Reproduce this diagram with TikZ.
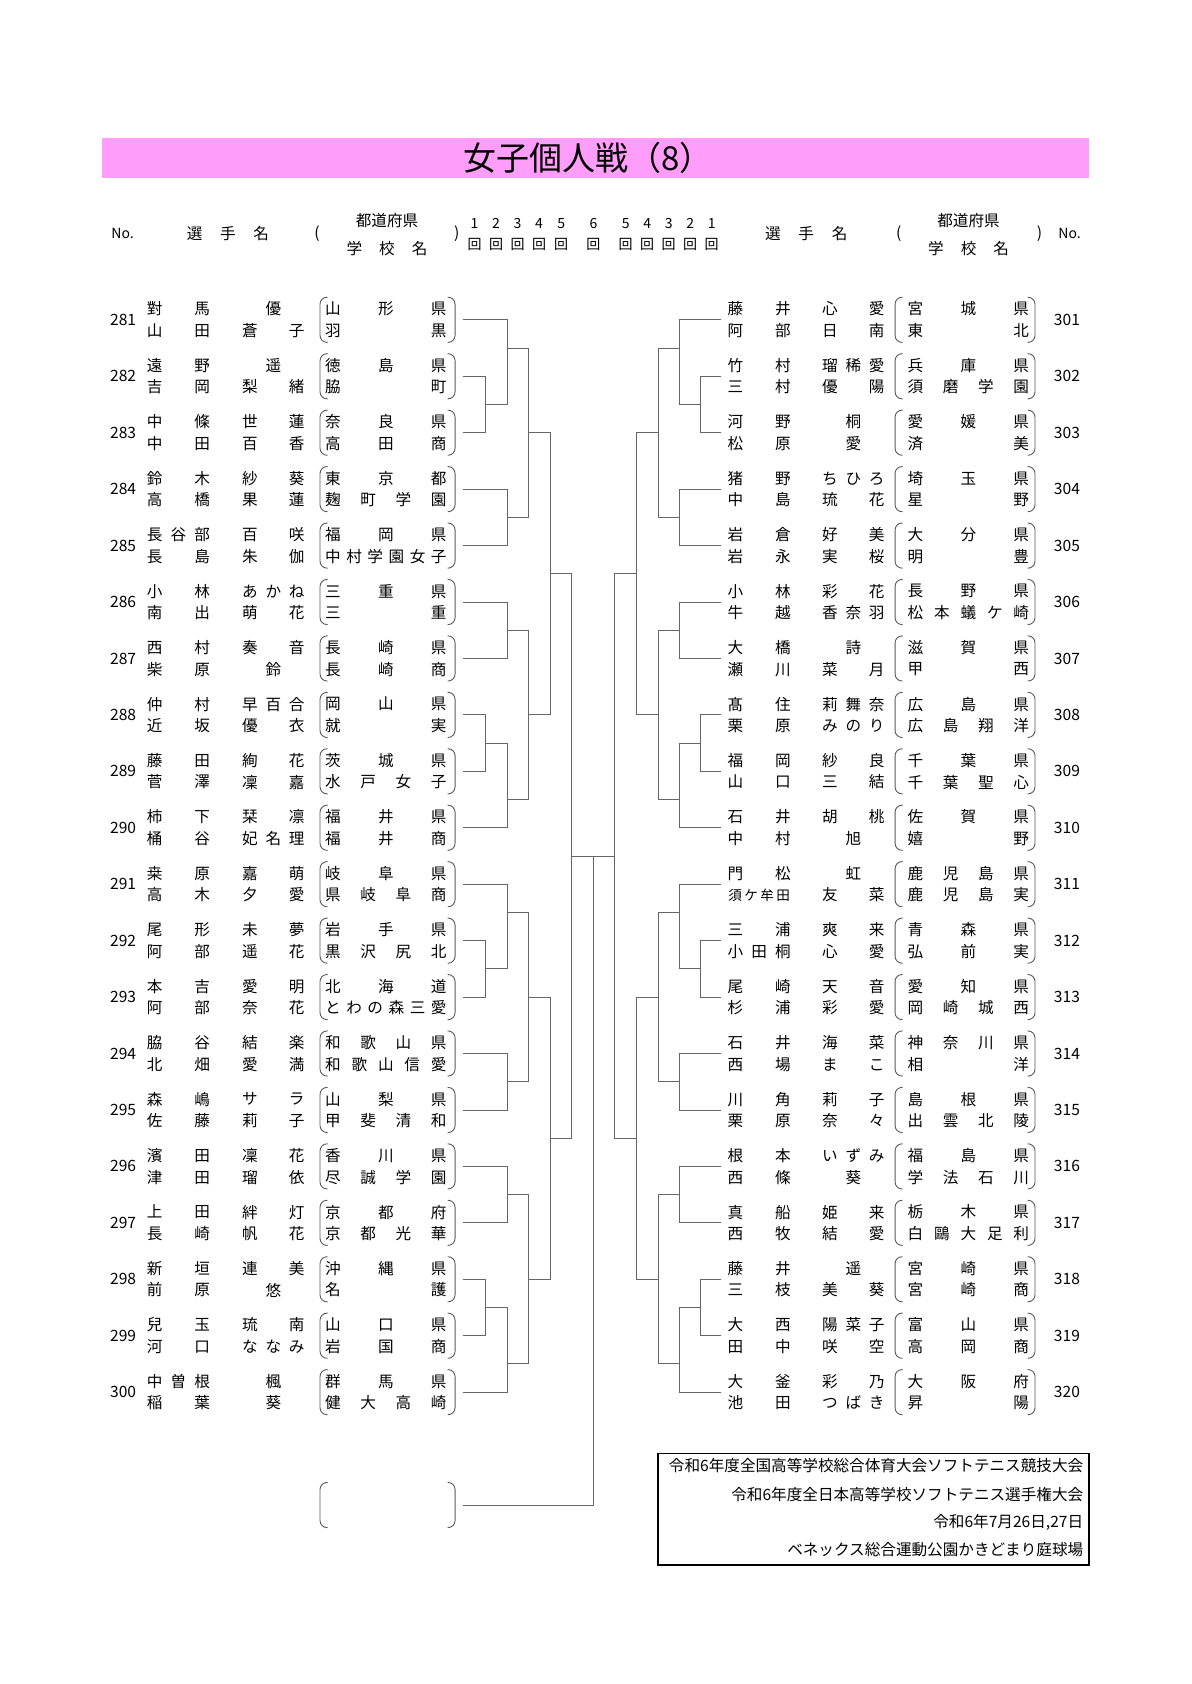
\documentclass[tikz,border=0pt]{standalone}
\usepackage{fontspec}
\setmainfont{Noto Sans CJK JP}
\usepackage{tikz}
\usetikzlibrary{
  	positioning,
  	calc
  }
\definecolor{titlepink}{RGB}{255,158,250}
\tikzstyle{bline}=[draw=black!60,line width=0.45pt]
\tikzstyle{paren}=[draw=black!65,line width=0.45pt,rounded corners=3.5pt]
\tikzstyle{txt}=[inner sep=0pt,font=\fontsize{7.8}{9}\selectfont]
\tikzstyle{rnd}=[inner sep=0pt,font=\fontsize{7}{8}\selectfont]
\makeatletter
\newcommand\jus[2]{\makebox[#1]{\expandafter\jus@a#2\relax}}
\def\jus@a#1{\ifx#1\relax\else#1\expandafter\jus@b\fi}
\def\jus@b#1{\ifx#1\relax\else\hfill#1\expandafter\jus@b\fi}
\makeatother

\begin{document}
\begin{tikzpicture}[x=0.5375pt,y=-0.5375pt]
	\fill[white] (0,0) rectangle (1108,1566.5);
	\useasboundingbox (0,0) rectangle (1108,1566.5);
%
	\fill[titlepink] (95,128) rectangle (1013,166);
	\node[inner sep=0pt,font=\fontsize{16.5}{19}\selectfont] (title) at (547,147) {女子個人戦（8）};
%
	\node[rnd] (noL) at (114,217) {No.};
	\node[txt] (senL) at (212,217) {\jus{41.1pt}{選手名}};
	\node[txt] (paL) at (295,217) {(};
	\node[txt] (prefL) at (360,205) {都道府県};
	\node[txt] (schL) at (360,231) {\jus{40.4pt}{学校名}};
	\node[txt] (pbL) at (425,217) {)};
	\node[txt] (senR) at (750,217) {\jus{41.1pt}{選手名}};
	\node[txt] (paR) at (836,217) {(};
	\node[txt] (prefR) at (901,205) {都道府県};
	\node[txt] (schR) at (901,231) {\jus{40.4pt}{学校名}};
	\node[txt] (pbR) at (967,217) {)};
	\node[rnd] (noR) at (995,217) {No.};
	\foreach \r/\x/\s in {1/441.5/L,2/461.5/L,3/481.5/L,4/501.5/L,5/522/L,6/552/C,5/582/R,4/602/R,3/622/R,2/642/R,1/662/R} {
		\node[rnd] (rd\s\r) at (\x,208) {\r};
		\node[rnd] (kai\s\r) at (\x,227) {回};
	}
%
	\foreach \n/\sa/\ga/\sb/\gb/\pa/\pb [count=\i from 0] in {
		281/對馬/優/山田/蒼子/山形県/羽黒,
		282/遠野/遥/吉岡/梨緒/徳島県/脇町,
		283/中條/世蓮/中田/百香/奈良県/高田商,
		284/鈴木/紗葵/高橋/果蓮/東京都/麹町学園,
		285/長谷部/百咲/長島/朱伽/福岡県/中村学園女子,
		286/小林/あかね/南出/萌花/三重県/三重,
		287/西村/奏音/柴原/鈴/長崎県/長崎商,
		288/仲村/早百合/近坂/優衣/岡山県/就実,
		289/藤田/絢花/菅澤/凜嘉/茨城県/水戸女子,
		290/柿下/栞凛/桶谷/妃名理/福井県/福井商,
		291/桒原/嘉萌/高木/夕愛/岐阜県/県岐阜商,
		292/尾形/未夢/阿部/遥花/岩手県/黒沢尻北,
		293/本吉/愛明/阿部/奈花/北海道/とわの森三愛,
		294/脇谷/結楽/北畑/愛満/和歌山県/和歌山信愛,
		295/森嶋/サラ/佐藤/莉子/山梨県/甲斐清和,
		296/濱田/凜花/津田/瑠依/香川県/尽誠学園,
		297/上田/絆灯/長崎/帆花/京都府/京都光華,
		298/新垣/連美/前原/悠/沖縄県/名護,
		299/兒玉/琉南/河口/ななみ/山口県/岩国商,
		300/中曽根/楓/稲葉/葵/群馬県/健大高崎} {
		\pgfmathsetmacro\y{297.5+52.5*\i}
		\node[txt] (numL\i) at (114.5,\y) {\n};
		\node[txt] (saL\i) at (166,\y-10) {\jus{31.5pt}{\sa}};
		\node[txt] (gaL\i) at (254.3,\y-10) {\jus{31.2pt}{\ga}};
		\node[txt] (sbL\i) at (166,\y+10) {\jus{31.5pt}{\sb}};
		\node[txt] (gbL\i) at (254.3,\y+10) {\jus{31.2pt}{\gb}};
		\node[txt] (paL\i) at (358.9,\y-10) {\jus{60.7pt}{\pa}};
		\node[txt] (pbL\i) at (358.9,\y+10) {\jus{60.7pt}{\pb}};
		\draw[paren] (304.7,\y-21) -- (297.7,\y-21) -- (297.7,\y+21) -- (304.7,\y+21);
		\draw[paren] (416.3,\y-21) -- (423.3,\y-21) -- (423.3,\y+21) -- (416.3,\y+21);
		\coordinate (LE\i) at (431,\y);
	}
%
	\foreach \n/\sa/\ga/\sb/\gb/\pa/\pb [count=\i from 0] in {
		301/藤井/心愛/阿部/日南/宮城県/東北,
		302/竹村/瑠稀愛/三村/優陽/兵庫県/須磨学園,
		303/河野/桐/松原/愛/愛媛県/済美,
		304/猪野/ちひろ/中島/琉花/埼玉県/星野,
		305/岩倉/好美/岩永/実桜/大分県/明豊,
		306/小林/彩花/牛越/香奈羽/長野県/松本蟻ケ崎,
		307/大橋/詩/瀬川/菜月/滋賀県/甲西,
		308/髙住/莉舞奈/栗原/みのり/広島県/広島翔洋,
		309/福岡/紗良/山口/三結/千葉県/千葉聖心,
		310/石井/胡桃/中村/旭/佐賀県/嬉野,
		311/門松/虹//友菜/鹿児島県/鹿児島実,
		312/三浦/爽来/小田桐/心愛/青森県/弘前実,
		313/尾崎/天音/杉浦/彩愛/愛知県/岡崎城西,
		314/石井/海菜/西場/まこ/神奈川県/相洋,
		315/川角/莉子/栗原/奈々/島根県/出雲北陵,
		316/根本/いずみ/西條/葵/福島県/学法石川,
		317/真船/姫来/西牧/結愛/栃木県/白鷗大足利,
		318/藤井/遥/三枝/美葵/宮崎県/宮崎商,
		319/大西/陽菜子/田中/咲空/富山県/高岡商,
		320/大釜/彩乃/池田/つばき/大阪府/昇陽} {
		\pgfmathsetmacro\y{297.5+52.5*\i}
		\node[txt] (numR\i) at (992.5,\y) {\n};
		\node[txt] (saR\i) at (706.2,\y-10) {\jus{31.5pt}{\sa}};
		\node[txt] (gaR\i) at (793.8,\y-10) {\jus{31.2pt}{\ga}};
		\node[txt] (sbR\i) at (706.2,\y+10) {\jus{31.5pt}{\sb}};
		\node[txt] (gbR\i) at (793.8,\y+10) {\jus{31.2pt}{\gb}};
		\node[txt] (paR\i) at (900.8,\y-10) {\jus{60.7pt}{\pa}};
		\node[txt] (pbR\i) at (900.8,\y+10) {\jus{60.7pt}{\pb}};
		\draw[paren] (839.6,\y-21) -- (832.6,\y-21) -- (832.6,\y+21) -- (839.6,\y+21);
		\draw[paren] (955.8,\y-21) -- (962.8,\y-21) -- (962.8,\y+21) -- (955.8,\y+21);
		\coordinate (RE\i) at (671,\y);
	}
	\node[txt,font=\fontsize{6.8}{7}\selectfont] (sbR10) at (706.2,832.5) {\jus{30.9pt}{須ケ牟田}};
%
	\foreach \s/\d in {L/-1,R/1} {
		\foreach \m/\o/\yy in {A1/100/376.25, A2/80/323.75, A3/80/481.25, A4/60.5/402.5,
			B1/80/586.25, B2/100/691.25, B3/80/743.75, B4/60.5/665, AB/40.4/533.75,
			C1/100/901.25, C2/80/848.75, C3/80/1006.25, C4/60.5/927.5,
			D1/80/1111.25, D2/100/1216.25, D3/80/1268.75, D4/60.5/1190, CD/40.4/1058.75,
			F/20/796.25}
			\coordinate (\s\m) at (552+\d*\o,\yy);
		\foreach \a/\b/\m in {E1/E2/A1, E0/A1/A2, E3/E4/A3, A2/A3/A4,
			E5/E6/B1, E7/E8/B2, B2/E9/B3, B1/B3/B4, A4/B4/AB,
			E11/E12/C1, E10/C1/C2, E13/E14/C3, C2/C3/C4,
			E15/E16/D1, E17/E18/D2, D2/E19/D3, D1/D3/D4, C4/D4/CD,
			AB/CD/F}
			\draw[bline] (\s\a) -- (\s\a -| \s\m) -- (\s\b -| \s\m) -- (\s\b);
	}
	\coordinate (W) at (552,796.25);
	\coordinate (K) at (431,1400);
	\draw[bline] (LF) -- (RF);
	\draw[bline] (W) |- (K);
	\draw[paren] (304.7,1379) -- (297.7,1379) -- (297.7,1421) -- (304.7,1421);
	\draw[paren] (416.3,1379) -- (423.3,1379) -- (423.3,1421) -- (416.3,1421);
%
	\draw[line width=0.9pt] (612.4,1352) rectangle (1013.3,1456);
	\node[txt,anchor=east] (info1) at (1008,1363) {令和6年度全国高等学校総合体育大会ソフトテニス競技大会};
	\node[txt,anchor=east] (info2) at (1008,1390) {令和6年度全日本高等学校ソフトテニス選手権大会};
	\node[txt,anchor=east] (info3) at (1008,1416.5) {令和6年7月26日,27日};
	\node[txt,anchor=east] (info4) at (1008,1441) {ベネックス総合運動公園かきどまり庭球場};
\end{tikzpicture}
\end{document}
